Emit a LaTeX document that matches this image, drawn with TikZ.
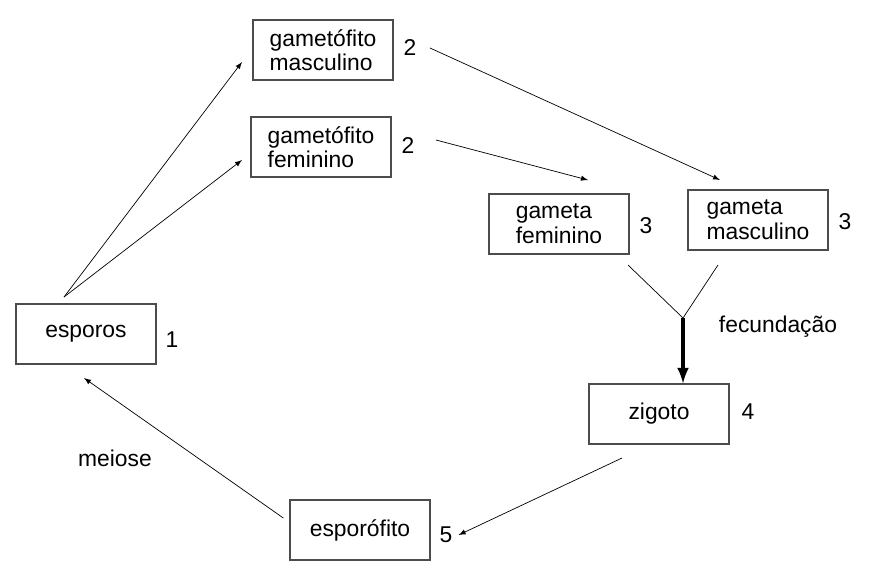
\documentclass[tikz,border=0pt]{standalone}
\usepackage{fontspec}
\setmainfont{Liberation Sans}
\usetikzlibrary{positioning}
\tikzstyle{arrow} = [->,>=latex]
\tikzstyle{box} = [draw=black!70,thick,minimum width=2.8cm,minimum height=1.2cm,align=left,inner sep=2pt]
\begin{document}
\begin{tikzpicture}[x=0.02cm,y=-0.02cm,font=\fontsize{13}{14}\selectfont]
\useasboundingbox (0,0) rectangle (891,579);
%Nodes
\node [box] (esporos) at (86,334) {esporos};
\node [box] (gamMasc) at (323,50) {gametófito\\masculino};
\node [box] (gamFem) at (321,147) {gametófito\\feminino};
\node [box] (gFem) at (559,224) {gameta\\feminino};
\node [box] (gMasc) at (758,220) {gameta\\masculino};
\node [box] (zigoto) at (659,414) {zigoto};
\node [box] (esporofito) at (360,530) {esporófito};

\node (n1) at (172,340) {1};
\node (n2a) at (410,48) {2};
\node (n2b) at (408,146) {2};
\node (n3a) at (646,226) {3};
\node (n3b) at (845,222) {3};
\node (n4) at (748,412) {4};
\node (n5) at (446,535) {5};
\node (fec) at (778,327) {fecundação};
\node (meiose) at (115,458) {meiose};

%Coordinates
\coordinate (s) at (64,297);
\coordinate (j) at (683,318);
\coordinate (fa) at (628,265);
\coordinate (ma) at (718,265);
\coordinate (za) at (622,458);

%Lines
\draw[arrow] (s) -- (242,62);
\draw[arrow] (s) -- (242,160);
\draw[arrow] (430,48) -- (720,180);
\draw[arrow] (436,140) -- (588,180);
\draw (fa) -- (j) -- (ma);
\draw[arrow,line width=2pt] (j) -- (zigoto.north -| j);
\draw[arrow] (za) -- (n5.east);
\draw[arrow] (esporofito.west) ++(-6,-12) -- (84,378);
\end{tikzpicture}
\end{document}
